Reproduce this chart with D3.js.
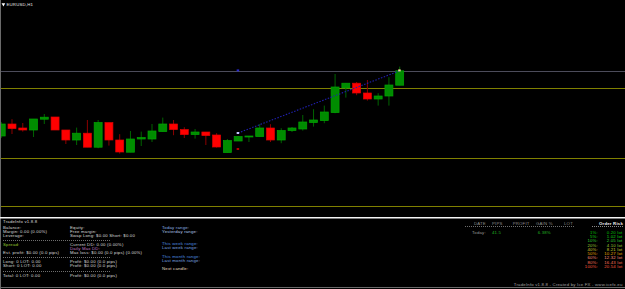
<!DOCTYPE html>
<html>
<head>
<meta charset="utf-8">
<script src="https://cdn.jsdelivr.net/npm/d3@7/dist/d3.min.js"></script>
<style>
  html, body { margin: 0; padding: 0; background: #000; }
  svg { display: block; font-family: "Liberation Sans", Arial, sans-serif; }
</style>
</head>
<body>
<div id="chart"></div>
<script>
// EURUSD H1 terminal window with the TradeInfo panel below it.

const SYMBOL = 'EURUSD,H1';

const TIMES = [
  'Mon 10', 'Mon 11', 'Mon 12', 'Mon 13', 'Mon 14', 'Mon 15', 'Mon 16', 'Mon 17',
  'Mon 18', 'Mon 19', 'Mon 20', 'Mon 21', 'Mon 22', 'Mon 23', 'Tue 00', 'Tue 01',
  'Tue 02', 'Tue 03', 'Tue 04', 'Tue 05', 'Tue 06', 'Tue 07', 'Tue 08', 'Tue 09',
  'Tue 10', 'Tue 11', 'Tue 12', 'Tue 13', 'Tue 14', 'Tue 15', 'Tue 16', 'Tue 17',
  'Tue 18', 'Tue 19', 'Tue 20', 'Tue 21', 'Tue 22', 'Tue 23',
];
const OPEN = [
  1.09320, 1.09380, 1.09360, 1.09350, 1.09404, 1.09415, 1.09350, 1.09300,
  1.09334, 1.09264, 1.09387, 1.09300, 1.09239, 1.09305, 1.09305, 1.09342,
  1.09380, 1.09352, 1.09327, 1.09340, 1.09325, 1.09237, 1.09295, 1.09317,
  1.09317, 1.09360, 1.09300, 1.09347, 1.09355, 1.09387, 1.09397, 1.09437,
  1.09560, 1.09584, 1.09535, 1.09505, 1.09520, 1.09574,
];
const HIGH = [
  1.09390, 1.09404, 1.09385, 1.09405, 1.09430, 1.09415, 1.09350, 1.09362,
  1.09400, 1.09400, 1.09387, 1.09329, 1.09345, 1.09342, 1.09380, 1.09412,
  1.09400, 1.09364, 1.09355, 1.09340, 1.09334, 1.09305, 1.09320, 1.09320,
  1.09380, 1.09379, 1.09359, 1.09365, 1.09425, 1.09454, 1.09472, 1.09630,
  1.09584, 1.09590, 1.09600, 1.09534, 1.09614, 1.09667,
];
const LOW = [
  1.09310, 1.09330, 1.09342, 1.09315, 1.09380, 1.09350, 1.09280, 1.09275,
  1.09264, 1.09259, 1.09272, 1.09232, 1.09239, 1.09270, 1.09290, 1.09342,
  1.09324, 1.09310, 1.09307, 1.09275, 1.09262, 1.09237, 1.09295, 1.09290,
  1.09317, 1.09290, 1.09284, 1.09340, 1.09347, 1.09367, 1.09384, 1.09434,
  1.09512, 1.09524, 1.09497, 1.09472, 1.09472, 1.09574,
];
const CLOSE = [
  1.09380, 1.09357, 1.09350, 1.09405, 1.09414, 1.09350, 1.09300, 1.09334,
  1.09264, 1.09387, 1.09300, 1.09240, 1.09305, 1.09312, 1.09345, 1.09380,
  1.09352, 1.09327, 1.09340, 1.09322, 1.09265, 1.09297, 1.09317, 1.09320,
  1.09360, 1.09300, 1.09347, 1.09360, 1.09390, 1.09400, 1.09440, 1.09565,
  1.09584, 1.09535, 1.09505, 1.09520, 1.09575, 1.09646,
];

// horizontal range levels (olive lines)
const LEVELS = [1.09559, 1.09209, 1.08970];

// trend line and order markers
const TREND_FROM = { time: 'Tue 08', price: 1.09335 };
const TREND_TO = { time: 'Tue 23', price: 1.09646 };
const MARKERS = [
  { time: 'Tue 08', price: 1.09335, color: '#c8c8ff' },
  { time: 'Tue 08', price: 1.09648, color: '#2828c8' },
  { time: 'Tue 08', price: 1.09255, color: '#b00000' },
  { time: 'Tue 23', price: 1.09648, color: '#e8dc90' },
];

// TradeInfo panel texts
const INFO_TITLE = 'TradeInfo v1.8.8';
const INFO_LEFT = [
  ['Balance:', 'Equity:'],
  ['Margin: 0.00  (0.00%)', 'Free margin:'],
  ['Leverage:', 'Swap  Long: $0.00  Short: $0.00'],
  ['Spread:', 'Current   DD: 0.00   (0.00%)'],
  ['', 'Daily Max DD:'],
  ['Est. profit: $0.00  (0.0 pips)', 'Max loss:  $0.00  (0.0 pips)  (0.00%)'],
  ['Long:   0    LOT: 0.00', 'Profit: $0.00     (0.0 pips)'],
  ['Short:  0    LOT: 0.00', 'Profit: $0.00     (0.0 pips)'],
  ['Total:  0    LOT: 0.00', 'Profit: $0.00     (0.0 pips)'],
];
const RANGE_LABELS = [
  'Today range:', 'Yesterday range:', 'This week range:', 'Last week range:',
  'This month range:', 'Last month range:', 'Next candle:',
];
const GAIN_HEADERS = ['DATE', 'PIPS', 'PROFIT', 'GAIN %', 'LOT'];
const GAIN_ROW = ['Today:', '41.5', '', '6.38%', ''];
const RISK_PCT = ['1%:', '5%:', '10%:', '20%:', '40%:', '50%:', '60%:', '80%:', '100%:'];
const RISK_LOT = ['0.20 lot', '1.02 lot', '2.05 lot', '4.10 lot', '8.21 lot', '10.27 lot', '12.32 lot', '16.43 lot', '20.54 lot'];
const FOOTER = 'TradeInfo v1.8.8 - Created by Ice FX - www.icefx.eu';

// ---- layout / style ----
const W = 625, H = 289;
const UP = { body: '#008c00', edge: '#00a400', wick: '#006400' };
const DOWN = { body: '#ff0000', edge: '#e00000', wick: '#8c0000' };
const TEXT = '#dcdcdc';
const FS = 4.3;
const LS = 0.2;
const LEFT_ROW_Y = [227, 231, 235, 244, 248, 252.5, 261.5, 265.5, 275.5];
const LEFT_SEP_Y = [240, 257, 271];
const RANGE_ROW_Y = [227, 231, 243, 247, 256, 260, 268.5];
const RANGE_COLORS = ['#8fb2e8', '#b4cbef', '#4f8fe0', '#7fa9e6', '#4f8fe0', '#7fa9e6', '#e6dcc4'];
const GAIN_COL_X = [474, 492, 512.7, 536, 564];
const RISK_COLORS = ['#00c800', '#10dc10', '#30d030', '#9acd32', '#cccc30', '#e8a800', '#ff9078', '#ff7458', '#ff5a3c'];

const svg = d3.select('#chart').append('svg').attr('width', W).attr('height', H);
svg.append('rect').attr('width', W).attr('height', H).attr('fill', '#000');

const candles = TIMES.map((t, i) => ({ t, o: OPEN[i], h: HIGH[i], l: LOW[i], c: CLOSE[i] }));

const x = d3.scalePoint().domain(TIMES).range([1.23, 399.7]);
const y = d3.scaleLinear().domain([1.0893, 1.1000]).range([214, 0]);
const bodyW = x.step() * 0.74;

const plot = svg.append('g');

// range levels
plot.selectAll('line.level')
  .data(LEVELS)
  .join('line')
  .attr('class', 'level')
  .attr('x1', 1).attr('x2', W)
  .attr('y1', (d) => Math.round(y(d)) + 0.5)
  .attr('y2', (d) => Math.round(y(d)) + 0.5)
  .attr('stroke', '#808000')
  .attr('stroke-width', 1);

// bid line at the last close
const bid = CLOSE[CLOSE.length - 1];
plot.append('line')
  .attr('x1', 1).attr('x2', W)
  .attr('y1', Math.round(y(bid)) + 0.5).attr('y2', Math.round(y(bid)) + 0.5)
  .attr('stroke', '#4c4c5a')
  .attr('stroke-width', 1);

// wicks
plot.selectAll('line.wick')
  .data(candles)
  .join('line')
  .attr('class', 'wick')
  .attr('x1', (d) => x(d.t)).attr('x2', (d) => x(d.t))
  .attr('y1', (d) => y(d.h)).attr('y2', (d) => y(d.l))
  .attr('stroke', (d) => (d.c >= d.o ? UP.wick : DOWN.wick))
  .attr('stroke-width', 1);

// bodies
plot.selectAll('rect.body')
  .data(candles)
  .join('rect')
  .attr('class', 'body')
  .attr('x', (d) => x(d.t) - bodyW / 2)
  .attr('width', bodyW)
  .attr('y', (d) => y(Math.max(d.o, d.c)))
  .attr('height', (d) => Math.max(1, Math.abs(y(d.o) - y(d.c))))
  .attr('fill', (d) => (d.c >= d.o ? UP.body : DOWN.body))
  .attr('stroke', (d) => (d.c >= d.o ? UP.edge : DOWN.edge))
  .attr('stroke-width', 0.7);

// trend line
plot.append('line')
  .attr('x1', x(TREND_FROM.time)).attr('y1', y(TREND_FROM.price))
  .attr('x2', x(TREND_TO.time)).attr('y2', y(TREND_TO.price))
  .attr('stroke', '#2020b0')
  .attr('stroke-width', 1.1)
  .attr('stroke-dasharray', '1.5,1.5');

plot.selectAll('rect.marker')
  .data(MARKERS)
  .join('rect')
  .attr('class', 'marker')
  .attr('x', (d) => x(d.time) - 1.5)
  .attr('y', (d) => y(d.price) - 1)
  .attr('width', 2.5)
  .attr('height', 2)
  .attr('fill', (d) => d.color);

// symbol caption
svg.append('path')
  .attr('d', d3.symbol(d3.symbolTriangle, 6)())
  .attr('transform', 'translate(3.4,4.3) rotate(180)')
  .attr('fill', '#fff');
svg.append('text')
  .attr('x', 6.5).attr('y', 5.8)
  .attr('fill', '#e8e8e8')
  .attr('font-size', FS)
  .attr('letter-spacing', LS)
  .text(SYMBOL);

// window frame
svg.append('line').attr('x1', 0.5).attr('x2', 0.5).attr('y1', 0).attr('y2', H)
  .attr('stroke', '#6a6a6a');
svg.append('line').attr('x1', 0).attr('x2', W).attr('y1', 287.5).attr('y2', 287.5)
  .attr('stroke', '#6a6a6a');
svg.append('line').attr('x1', 0).attr('x2', W).attr('y1', 217.8).attr('y2', 217.8)
  .attr('stroke', '#f4f4f4').attr('stroke-width', 1.4);

// ---- TradeInfo panel ----
const panel = svg.append('g').attr('font-size', FS).attr('letter-spacing', LS);

panel.append('text').attr('x', 3).attr('y', 223.2).attr('fill', TEXT).text(INFO_TITLE);

INFO_LEFT.forEach((row, i) => {
  const yy = LEFT_ROW_Y[i] + 1.6;
  const leftColor = row[0] === 'Spread:' ? '#9acd32' : TEXT;
  const rightColor = row[1] === 'Daily Max DD:' ? '#c07ac0' : TEXT;
  if (row[0]) panel.append('text').attr('x', 3).attr('y', yy).attr('fill', leftColor).text(row[0]);
  panel.append('text').attr('x', 70).attr('y', yy).attr('fill', rightColor).text(row[1]);
});

panel.selectAll('line.sep')
  .data(LEFT_SEP_Y)
  .join('line')
  .attr('class', 'sep')
  .attr('x1', 3).attr('x2', 110)
  .attr('y1', (d) => d + 0.5).attr('y2', (d) => d + 0.5)
  .attr('stroke', '#6e6e6e')
  .attr('stroke-dasharray', '1,1');

RANGE_LABELS.forEach((label, i) => {
  panel.append('text')
    .attr('x', 162).attr('y', RANGE_ROW_Y[i] + 1.6)
    .attr('fill', RANGE_COLORS[i])
    .text(label);
});

GAIN_HEADERS.forEach((h, i) => {
  panel.append('text').attr('x', GAIN_COL_X[i]).attr('y', 224.9).attr('fill', '#8c8c8c').text(h);
});
panel.append('line').attr('x1', 465).attr('x2', 575).attr('y1', 226.5).attr('y2', 226.5)
  .attr('stroke', '#6e6e6e').attr('stroke-dasharray', '1,1');
GAIN_ROW.forEach((v, i) => {
  if (!v) return;
  panel.append('text')
    .attr('x', i === 0 ? 472 : GAIN_COL_X[i] + (i === 3 ? 1.7 : 0))
    .attr('y', 233.9)
    .attr('fill', i === 0 ? '#9a9a9a' : '#22b422')
    .text(v);
});

panel.append('text').attr('x', 623).attr('y', 224.9).attr('text-anchor', 'end')
  .attr('fill', '#f0f0f0').attr('font-weight', 'bold').text('Order Risk');
panel.append('line').attr('x1', 592).attr('x2', 623).attr('y1', 226.5).attr('y2', 226.5)
  .attr('stroke', '#8a8a8a').attr('stroke-dasharray', '1,1');

RISK_PCT.forEach((p, i) => {
  const yy = 232 + i * 4.3 + 1.6;
  panel.append('text').attr('x', 598).attr('y', yy).attr('text-anchor', 'end')
    .attr('fill', RISK_COLORS[i]).text(p);
  panel.append('text').attr('x', 622.5).attr('y', yy).attr('text-anchor', 'end')
    .attr('fill', RISK_COLORS[i]).text(RISK_LOT[i]);
});

panel.append('text').attr('x', 622.5).attr('y', 285.6).attr('text-anchor', 'end')
  .attr('fill', '#a0a0a0').text(FOOTER);
</script>
</body>
</html>
